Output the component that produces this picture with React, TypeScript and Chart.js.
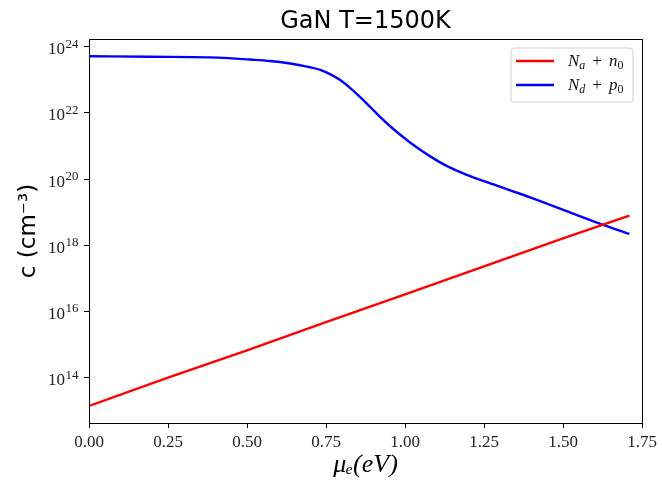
import React, { useEffect, useRef } from "react";
import { Chart, registerables } from "chart.js";

Chart.register(...registerables);

const titleText = "GaN T=1500K";
const xTickValues = [0, 0.25, 0.5, 0.75, 1.0, 1.25, 1.5, 1.75];
const yTickValues = [1e14, 1e16, 1e18, 1e20, 1e22, 1e24];
const yTickBases = ["10", "10", "10", "10", "10", "10"];
const yTickExponents = ["14", "16", "18", "20", "22", "24"];

const redX = [0, 0.25, 0.5, 0.75, 1.0, 1.25, 1.5, 1.71];
const redY = [1.4e13, 1.0e14, 6.7e14, 4.8e15, 3.3e16, 2.3e17, 1.6e18, 7.9e18];

const blueX = [0, 0.193, 0.408, 0.51, 0.573, 0.637, 0.668, 0.7, 0.732, 0.763, 0.795, 0.826, 0.858, 0.89, 0.921, 0.953, 0.985, 1.016, 1.048, 1.08, 1.111, 1.143, 1.175, 1.206, 1.238, 1.27, 1.333, 1.396, 1.618, 1.71];
const blueY = [5.13e23, 4.95e23, 4.66e23, 4.07e23, 3.68e23, 3.08e23, 2.74e23, 2.39e23, 1.98e23, 1.48e23, 9.75e22, 5.68e22, 2.99e22, 1.5e22, 7.55e21, 3.93e21, 2.17e21, 1.27e21, 7.71e20, 4.84e20, 3.18e20, 2.22e20, 1.62e20, 1.23e20, 9.48e19, 7.41e19, 4.56e19, 2.8e19, 4.41e18, 2.19e18];

const legendItems = [
  { color: "#ff0000", main: "N", sub: "a", main2: "n", sub2: "0" },
  { color: "#0000ff", main: "N", sub: "d", main2: "p", sub2: "0" },
];

const framePlugin = {
  id: "frameAndLegend",
  afterDraw(chart: any) {
    const { ctx, chartArea } = chart;
    const { left, right, top, bottom } = chartArea;
    ctx.save();
    ctx.strokeStyle = "#000";
    ctx.lineWidth = 1;
    ctx.strokeRect(Math.round(left) + 0.5, Math.round(top) + 0.5, Math.round(right - left), Math.round(bottom - top));

    // title centred over the plot area
    ctx.fillStyle = "#000";
    ctx.font = "24px 'DejaVu Sans'";
    ctx.textAlign = "center";
    ctx.textBaseline = "alphabetic";
    ctx.fillText(titleText, (left + right) / 2, 28);

    // y tick labels with raised exponents
    const yScale = chart.scales.y;
    ctx.fillStyle = "#222";
    yTickValues.forEach((v, i) => {
      const py = yScale.getPixelForValue(v);
      const endX = 78.5;
      ctx.font = "13px 'Liberation Serif'";
      ctx.textAlign = "left";
      const we = ctx.measureText(yTickExponents[i]).width;
      const ex = endX - we;
      ctx.fillText(yTickExponents[i], ex, py + 1);
      ctx.font = "17px 'Liberation Serif'";
      ctx.textAlign = "right";
      ctx.fillText(yTickBases[i], ex - 0.5, py + 7.6);
    });

    // legend box
    const bx = 511, by = 48, bw = 122, bh = 54, r = 3;
    ctx.beginPath();
    ctx.moveTo(bx + r, by);
    ctx.lineTo(bx + bw - r, by);
    ctx.quadraticCurveTo(bx + bw, by, bx + bw, by + r);
    ctx.lineTo(bx + bw, by + bh - r);
    ctx.quadraticCurveTo(bx + bw, by + bh, bx + bw - r, by + bh);
    ctx.lineTo(bx + r, by + bh);
    ctx.quadraticCurveTo(bx, by + bh, bx, by + bh - r);
    ctx.lineTo(bx, by + r);
    ctx.quadraticCurveTo(bx, by, bx + r, by);
    ctx.closePath();
    ctx.fillStyle = "rgba(255,255,255,0.8)";
    ctx.fill();
    ctx.strokeStyle = "#d0d0d0";
    ctx.lineWidth = 1;
    ctx.stroke();

    legendItems.forEach((it, i) => {
      const y = 61 + i * 24;
      ctx.strokeStyle = it.color;
      ctx.lineWidth = 2.4;
      ctx.beginPath();
      ctx.moveTo(516, y);
      ctx.lineTo(554, y);
      ctx.stroke();
      ctx.fillStyle = "#111";
      ctx.textBaseline = "alphabetic";
      ctx.textAlign = "left";
      let x = 568;
      const base = y + 5;
      ctx.font = "italic 17px 'Liberation Serif'";
      ctx.fillText(it.main, x, base);
      x += ctx.measureText(it.main).width;
      ctx.font = "italic 12px 'Liberation Serif'";
      ctx.fillText(it.sub, x, base + 3);
      x += ctx.measureText(it.sub).width + 7;
      ctx.font = "17px 'Liberation Serif'";
      ctx.fillText("+", x, base);
      x += ctx.measureText("+").width + 7;
      ctx.font = "italic 17px 'Liberation Serif'";
      ctx.fillText(it.main2, x, base);
      x += ctx.measureText(it.main2).width;
      ctx.font = "12px 'Liberation Serif'";
      ctx.fillText(it.sub2, x, base + 3);
    });
    ctx.restore();
  },
};

export default function App() {
  const canvasRef = useRef<HTMLCanvasElement | null>(null);

  useEffect(() => {
    document.body.style.margin = "0";
    const canvas = canvasRef.current;
    if (!canvas) return;
    const chart = new Chart(canvas, {
      type: "line",
      data: {
        datasets: [
          {
            label: "Na + n0",
            data: redX.map((x, i) => ({ x, y: redY[i] })),
            borderColor: "#ff0000",
            borderWidth: 2.4,
            pointRadius: 0,
            fill: false,
          },
          {
            label: "Nd + p0",
            data: blueX.map((x, i) => ({ x, y: blueY[i] })),
            borderColor: "#0000ff",
            borderWidth: 2.4,
            pointRadius: 0,
            fill: false,
            cubicInterpolationMode: "monotone",
          },
        ],
      },
      options: {
        animation: false,
        responsive: true,
        maintainAspectRatio: false,
        layout: { padding: { left: 0, right: 20, top: 39, bottom: 0 } },
        plugins: {
          legend: { display: false },
          tooltip: { enabled: false },
          title: { display: false },
        },
        scales: {
          x: {
            type: "linear",
            min: 0,
            max: 1.75,
            afterBuildTicks: (scale: any) => {
              scale.ticks = xTickValues.map((v) => ({ value: v }));
            },
            afterFit: (scale: any) => {
              scale.height = 58;
            },
            ticks: {
              color: "#222",
              font: { family: "'Liberation Serif'", size: 17 },
              padding: 4,
              maxRotation: 0,
              autoSkip: false,
              callback: (v: any) => Number(v).toFixed(2),
            },
            grid: { drawOnChartArea: false, drawTicks: true, tickLength: 5, color: "#000" },
            border: { display: false },
            title: {
              display: true,
              text: "μₑ(eV)",
              color: "#000",
              font: { family: "'Liberation Serif'", size: 26, style: "italic" },
              padding: { top: 0, bottom: 0 },
            },
          },
          y: {
            type: "logarithmic",
            min: 4.27e12,
            max: 1.7e24,
            afterBuildTicks: (scale: any) => {
              scale.ticks = yTickValues.map((v) => ({ value: v }));
            },
            afterFit: (scale: any) => {
              scale.width = 89;
            },
            ticks: { display: false },
            grid: { drawOnChartArea: false, drawTicks: true, tickLength: 5, color: "#000" },
            border: { display: false },
            title: {
              display: true,
              text: "c (cm⁻³)",
              color: "#000",
              font: { family: "'DejaVu Sans'", size: 23 },
              padding: { top: 15, bottom: 0 },
            },
          },
        },
      },
      plugins: [framePlugin],
    } as any);
    return () => chart.destroy();
  }, []);

  return (
    <div style={{ position: "absolute", left: 0, top: 0, width: 662, height: 481 }}>
      <canvas ref={canvasRef} />
    </div>
  );
}
